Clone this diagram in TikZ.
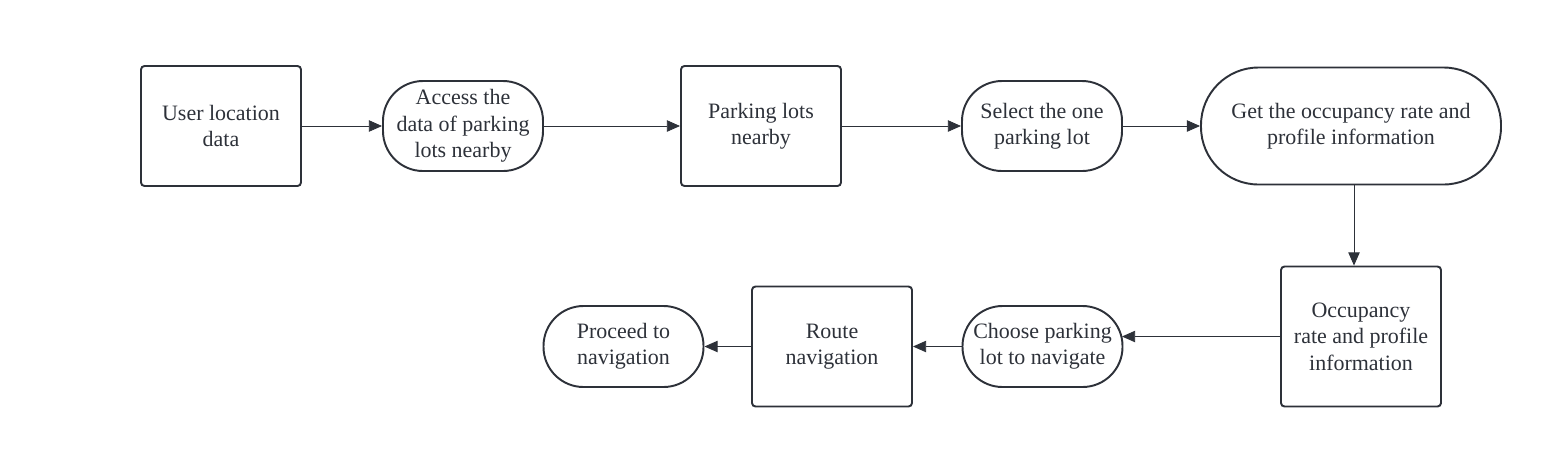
\documentclass[tikz,border=0pt]{standalone}
\usepackage{fontspec}
\setmainfont{Liberation Serif}
\usepackage{tikz}
\usetikzlibrary{arrows.meta}

\definecolor{inkgray}{RGB}{45,49,57}

\begin{document}
\begin{tikzpicture}[
    every node/.style={text=inkgray, align=center, font=\fontsize{12.5}{15}\selectfont, line width=1.1pt, draw=inkgray, inner sep=0pt},
    stepbox/.style={rectangle, rounded corners=2pt, minimum width=3.2cm, minimum height=2.4cm},
    pill/.style={rectangle, rounded corners=0.8cm, minimum width=3.2cm, minimum height=1.8cm},
    flow/.style={-{Triangle[length=7.5pt,width=6.5pt]}, draw=inkgray, line width=0.5pt}
]

\useasboundingbox (0,0) rectangle (31.24,-9.34);

% top row
\node[stepbox] (userloc) at (4.42,-2.52) {User location\\data};
\node[pill] (access) at (9.26,-2.52) {Access the\\data of parking\\lots nearby};
\node[stepbox] (lots) at (15.22,-2.52) {Parking lots\\nearby};
\node[pill] (select) at (20.84,-2.52) {Select the one\\parking lot};
\node[pill, rounded corners=1.15cm, minimum width=6cm, minimum height=2.34cm] (getocc) at (27.02,-2.52) {Get the occupancy rate and\\profile information};

% bottom row
\node[stepbox, minimum height=2.8cm] (occinfo) at (27.22,-6.73) {Occupancy\\rate and profile\\information};
\node[pill, rounded corners=0.8cm, minimum height=1.62cm] (choose) at (20.85,-6.93) {Choose parking\\lot to navigate};
\node[stepbox] (route) at (16.64,-6.93) {Route\\navigation};
\node[pill, rounded corners=0.8cm, minimum height=1.62cm] (proceed) at (12.47,-6.93) {Proceed to\\navigation};

\draw[flow] (userloc) -- (access);
\draw[flow] (access) -- (lots);
\draw[flow] (lots) -- (select);
\draw[flow] (select) -- (getocc);
\draw[flow] ([xshift=0.06cm]getocc.south) -- ([xshift=0.06cm]getocc.south |- occinfo.north);
\draw[flow] (occinfo.west) -- ([xshift=-0.03cm]occinfo.west -| choose.east);
\draw[flow] (choose) -- (route);
\draw[flow] (route) -- (proceed);

\end{tikzpicture}
\end{document}
